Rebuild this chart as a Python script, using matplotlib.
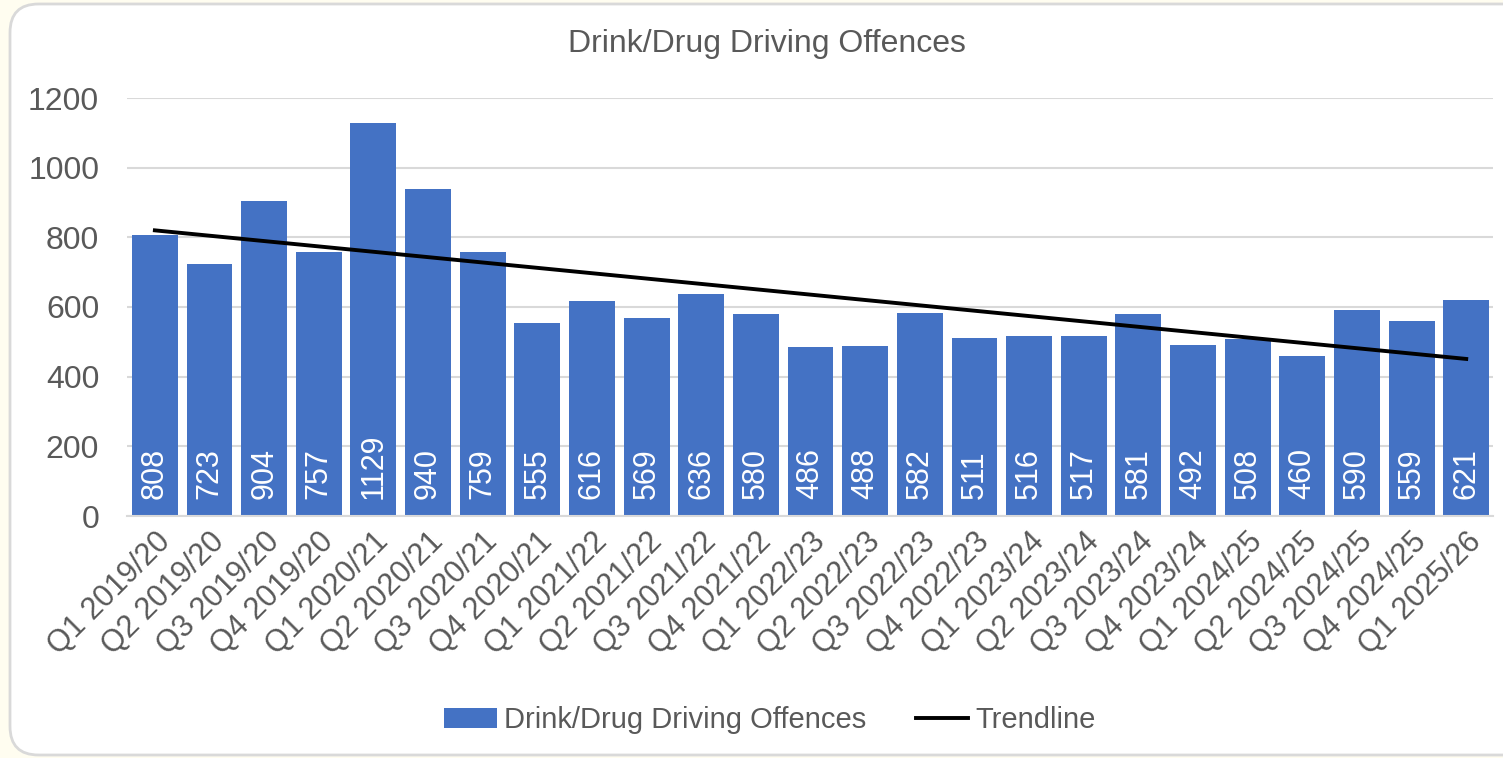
import numpy as np
import matplotlib.pyplot as plt
from matplotlib.patches import FancyBboxPatch

quarters = ["Q1 2019/20", "Q2 2019/20", "Q3 2019/20", "Q4 2019/20",
            "Q1 2020/21", "Q2 2020/21", "Q3 2020/21", "Q4 2020/21",
            "Q1 2021/22", "Q2 2021/22", "Q3 2021/22", "Q4 2021/22",
            "Q1 2022/23", "Q2 2022/23", "Q3 2022/23", "Q4 2022/23",
            "Q1 2023/24", "Q2 2023/24", "Q3 2023/24", "Q4 2023/24",
            "Q1 2024/25", "Q2 2024/25", "Q3 2024/25", "Q4 2024/25",
            "Q1 2025/26"]
offences = [808, 723, 904, 757, 1129, 940, 759, 555, 616, 569, 636, 580,
            486, 488, 582, 511, 516, 517, 581, 492, 508, 460, 590, 559, 621]

plt.rcParams['font.family'] = ['Liberation Sans', 'DejaVu Sans']
grey = '#595959'
blue = '#4472C4'

fig = plt.figure(figsize=(15.03, 7.58), dpi=100)
fig.patch.set_facecolor('#FFFDF0')
# rounded white panel, runs off the right edge like the screenshot
box = FancyBboxPatch((10 / 1503, 3 / 758), 1.05, 751 / 758, boxstyle="round,pad=0,rounding_size=0.019",
                     transform=fig.transFigure, facecolor='white', edgecolor='#D9D9D9',
                     linewidth=2, mutation_aspect=1503 / 758, zorder=-10)
fig.patches.append(box)

ax = fig.add_axes([127 / 1503, 1 - 516 / 758, 1366 / 1503, 418 / 758])
ax.set_zorder(5)
ax.set_facecolor('none')
x = np.arange(len(quarters))
bars = ax.bar(x, offences, width=0.84, color=blue, label='Drink/Drug Driving Offences', zorder=2)

# linear trendline, same as Excel's
slope, intercept = np.polyfit(x, offences, 1)
trend, = ax.plot(x, slope * x + intercept, color='black', linewidth=2.8, label='Trendline', zorder=3)

for xi, v in zip(x, offences):
    ax.text(xi, 50, str(v), rotation=90, ha='center', va='bottom', color='white', fontsize=22, zorder=4)

ax.set_xlim(-0.51, 24.49)
ax.set_ylim(0, 1200)
ax.set_yticks(range(0, 1201, 200))
ax.grid(axis='y', color='#D9D9D9', linewidth=1.5, zorder=0)
ax.set_axisbelow(True)
for s in ['top', 'right', 'left']:
    ax.spines[s].set_visible(False)
ax.spines['bottom'].set_color('#D9D9D9')
ax.spines['bottom'].set_linewidth(1.5)
ax.tick_params(length=0, colors=grey, labelsize=23)
ax.tick_params(axis='y', pad=20)
ax.tick_params(axis='x', pad=8)
ax.set_xticks(x)
ax.set_xticklabels(quarters, rotation=45, ha='right', rotation_mode='anchor', fontsize=22)

fig.text(767 / 1503, 1 - 44 / 758, 'Drink/Drug Driving Offences', color=grey, fontsize=23,
         ha='center', va='center')

leg = fig.legend([bars, trend], ['Drink/Drug Driving Offences', 'Trendline'],
                 loc='center', bbox_to_anchor=(770 / 1503, 1 - 720 / 758), ncol=2, frameon=False,
                 fontsize=21, labelcolor=grey, handlelength=1.8, handletextpad=0.25, columnspacing=1.7)
leg.set_zorder(6)

fig.savefig('out.png', dpi=100, facecolor=fig.get_facecolor())
